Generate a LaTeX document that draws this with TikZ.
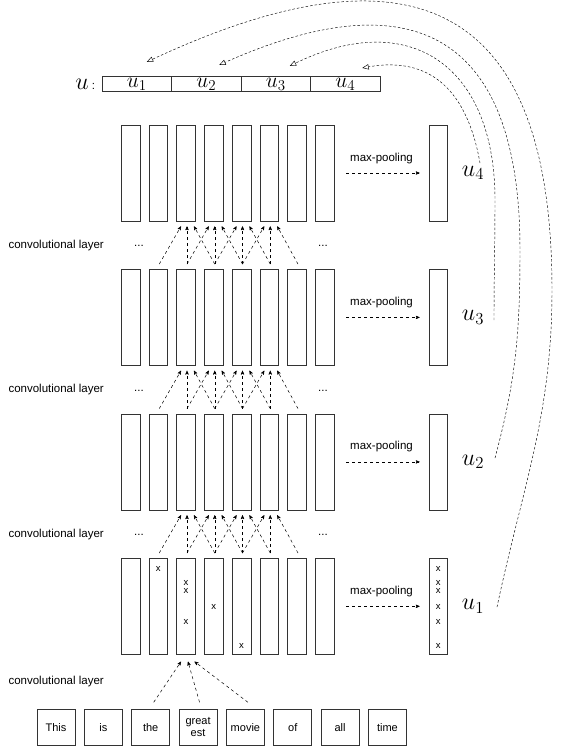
\RequirePackage{fix-cm}
\documentclass[tikz,border=0pt]{standalone}
\usepackage{fontspec}
\setmainfont{Liberation Sans}
\usepackage{amsmath}
\usetikzlibrary{arrows,positioning}

\begin{document}
\begin{tikzpicture}[x=1pt,y=1pt,>=stealth',node distance=27.75pt,
  font=\fontsize{11.5}{12}\selectfont,
  col/.style={rectangle,draw=black!80,line width=0.6pt,minimum width=18.7pt,minimum height=96pt,inner sep=0pt},
  word/.style={rectangle,draw=black!80,line width=0.6pt,minimum width=38pt,minimum height=35.5pt,inner sep=1.5pt,align=center,font=\fontsize{11}{12}\selectfont},
  cell/.style={rectangle,draw=black!80,line width=0.6pt,minimum width=69.5pt,minimum height=15.5pt,inner sep=0pt,font=\fontsize{21.5}{21.5}\selectfont},
  xmark/.style={inner sep=0pt,font=\fontsize{9.5}{9.5}\selectfont},
  ulabel/.style={inner sep=0pt,font=\fontsize{24}{24}\selectfont},
  conv/.style={->,dashed,line width=0.5pt},
  pool/.style={->,dashed,line width=0.5pt,shorten <=12pt,shorten >=9pt},
  gather/.style={-open triangle 45,dash pattern=on 2.5pt off 2pt,line width=0.45pt}]
  \useasboundingbox (0,0) rectangle (568,-750);

  % the four layers, pooled into u_1..u_4
  \foreach \k/\y in {1/-606.3,2/-461.9,3/-317.4,4/-173} {
    \node[col] (c\k1) at (130.5,\y) {};
    \foreach \i [remember=\i as \j (initially 1)] in {2,...,8}
      \node[col] (c\k\i) [right of=c\k\j] {};
    \node[col] (m\k) at (438.3,\y) {};
    \node[ulabel] (u\k) at (473,\y) {$u_{\k}$};
    \path (c\k8) edge[pool] node[above=6pt] {max-pooling} (m\k);
  }

  % x marks in the first layer and after pooling
  \foreach \col/\dd [count=\n] in {2/10.7pt,3/25pt,3/33.4pt,4/49.4pt,3/64.4pt,5/88.4pt} {
    \node[xmark] (x\n) at ([yshift=-\dd]c1\col.north) {x};
    \node[xmark] (p\n) at ([yshift=-\dd]m1.north) {x};
  }

  % the sentence
  \node[word] (w1) at (56,-727.3) {This};
  \node[word] (w2) [right of=w1,node distance=47.35pt] {is};
  \node[word] (w3) [right of=w2,node distance=47.35pt] {the};
  \node[word] (w4) [right of=w3,node distance=47.35pt] {great\\est};
  \node[word] (w5) [right of=w4,node distance=47.35pt] {movie};
  \node[word] (w6) [right of=w5,node distance=47.35pt] {of};
  \node[word] (w7) [right of=w6,node distance=47.35pt] {all};
  \node[word] (w8) [right of=w7,node distance=47.35pt] {time};

  \draw[conv] ([xshift=3pt,yshift=7pt]w3.north) -- ([xshift=-5pt,yshift=-7pt]c13.south);
  \draw[conv] ([xshift=1.5pt,yshift=7pt]w4.north) -- ([xshift=2pt,yshift=-7pt]c13.south);
  \draw[conv] ([xshift=2.5pt,yshift=7pt]w5.north) -- ([xshift=8.5pt,yshift=-7pt]c13.south);

  % convolutions between the layers
  \foreach \k/\n in {1/2,2/3,3/4}
    \foreach \tgt/\lft/\rgt in {3/2/4,4/3/5,5/4/6,6/5/7} {
      \draw[conv] ([xshift=1pt,yshift=5pt]c\k\lft.north) -- ([xshift=-5pt,yshift=-5pt]c\n\tgt.south);
      \draw[conv] ([xshift=1pt,yshift=5pt]c\k\tgt.north) -- ([xshift=1pt,yshift=-5pt]c\n\tgt.south);
      \draw[conv] ([xshift=1pt,yshift=5pt]c\k\rgt.north) -- ([xshift=8pt,yshift=-5pt]c\n\tgt.south);
    }

  % labels and dots in the gaps
  \foreach \g/\y in {a/-245.2,b/-389.6,c/-534.1} {
    \node (l\g) [anchor=west] at (5,\y) {convolutional layer};
    \node (dl\g) at (139,\y-1) {...};
    \node (dr\g) at (323,\y-1) {...};
  }
  \node (ld) [anchor=west] at (5,-682) {convolutional layer};

  % the vector u
  \node[cell] (v1) at (136.75,-84) {$u_1$};
  \node[cell] (v2) [right of=v1,node distance=69.5pt] {$u_2$};
  \node[cell] (v3) [right of=v2,node distance=69.5pt] {$u_3$};
  \node[cell] (v4) [right of=v3,node distance=69.5pt] {$u_4$};
  \node (uv) [left=3pt of v1] {{\fontsize{24}{24}\selectfont$u$}\ :};

  \coordinate (a1) at (497,-607);
  \coordinate (r1) at (552,-290);
  \coordinate (t1) at ([xshift=10pt,yshift=14pt]v1.north);
  \coordinate (a2) at (495,-458);
  \coordinate (r2) at (520,-250);
  \coordinate (t2) at ([xshift=13pt,yshift=11pt]v2.north);
  \coordinate (a3) at (494,-320);
  \coordinate (r3) at (495,-200);
  \coordinate (t3) at ([xshift=14pt,yshift=10pt]v3.north);
  \coordinate (a4) at (480,-163);
  \coordinate (t4) at ([xshift=17pt,yshift=8pt]v4.north);
  \draw[gather] (a1) to[out=78,in=-90] (r1) to[out=90,in=25,out looseness=1.5,in looseness=1.7] (t1);
  \draw[gather] (a2) to[out=75,in=-90] (r2) to[out=90,in=24,looseness=1.55] (t2);
  \draw[gather] (a3) to[out=90,in=-90] (r3) to[out=90,in=26,looseness=1.4] (t3);
  \draw[gather] (a4) to[out=100,in=10,looseness=1.2] (t4);
\end{tikzpicture}
\end{document}
